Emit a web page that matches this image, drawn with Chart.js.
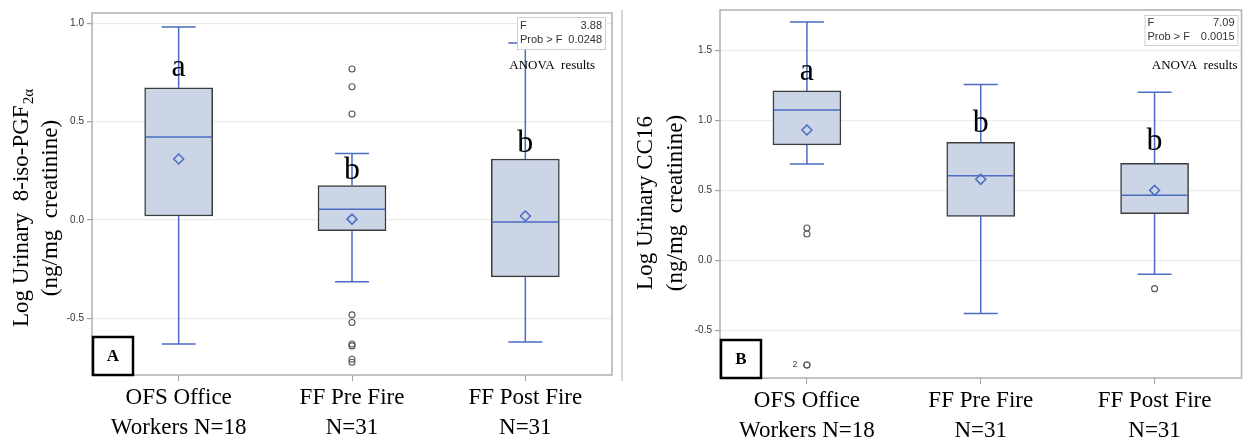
<!DOCTYPE html>
<html>
<head>
<meta charset="utf-8">
<script src="https://cdn.jsdelivr.net/npm/chart.js@4.4.1/dist/chart.umd.min.js"></script>
<style>
  body { margin: 0; background: #fff; }
  #wrap { position: relative; width: 1248px; height: 441px; }
  #chartA { position: absolute; left: 0; top: 0; }
  #chartB { position: absolute; left: 620px; top: 0; }
</style>
</head>
<body>
<div id="wrap">
  <canvas id="chartA" width="620" height="441"></canvas>
  <canvas id="chartB" width="628" height="441"></canvas>
</div>
<script>
const categories = [['OFS Office', 'Workers N=18'], ['FF Pre Fire', 'N=31'], ['FF Post Fire', 'N=31']];

// Panel A - log urinary 8-iso-PGF2a
const minA = [-0.631, -0.314, -0.621];
const q1A = [0.02, -0.055, -0.29];
const medianA = [0.422, 0.055, -0.01];
const q3A = [0.672, 0.175, 0.31];
const maxA = [0.982, 0.338, 0.9];
const meanA = [0.31, 0.004, 0.02];
const outliersA = [[], [0.768, 0.678, 0.539, -0.483, -0.522, -0.631, -0.641, -0.709, -0.724], []];
const lettersA = ['a', 'b', 'b'];
const letterYA = [0.733, 0.209, 0.346];
const yTicksA = [-0.5, 0.0, 0.5, 1.0];
const yRangeA = [-0.789, 1.053];
const anovaA = ['3.88', '0.0248'];

// Panel B - log urinary CC16
const minB = [0.689, -0.381, -0.1];
const q1B = [0.825, 0.314, 0.333];
const medianB = [1.075, 0.605, 0.465];
const q3B = [1.211, 0.843, 0.694];
const maxB = [1.705, 1.257, 1.202];
const meanB = [0.932, 0.579, 0.5];
const outliersB = [[0.231, 0.188, -0.749, -0.749], [], [-0.203]];
const lettersB = ['a', 'b', 'b'];
const letterYB = [1.289, 0.92, 0.789];
const yTicksB = [-0.5, 0.0, 0.5, 1.0, 1.5];
const yRangeB = [-0.842, 1.79];
const anovaB = ['7.09', '0.0015'];
// count shown next to overlapping outliers
const dupTextB = ['2', '', ''];
const dupYB = [-0.749, null, null];

const blue = '#4a6cc4';
const serif = "'Liberation Serif', 'Times New Roman', serif";
const sans = "'Liberation Sans', Arial, sans-serif";

function makePanel(canvasId, p) {
  const extras = {
    id: 'boxExtras',
    afterDatasetDraw(chart, args) {
      if (args.index !== 0) return;
      const ctx = chart.ctx, y = chart.scales.y;
      ctx.save();
      ctx.strokeStyle = blue;
      ctx.lineWidth = 1.5;
      args.meta.data.forEach((bar, i) => {
        const half = bar.width / 2, cap = bar.width / 4;
        const yMin = y.getPixelForValue(p.min[i]);
        const yMax = y.getPixelForValue(p.max[i]);
        const yQ1 = y.getPixelForValue(p.q1[i]);
        const yQ3 = y.getPixelForValue(p.q3[i]);
        const yMed = y.getPixelForValue(p.median[i]);
        ctx.beginPath();
        ctx.moveTo(bar.x, yQ3); ctx.lineTo(bar.x, yMax);
        ctx.moveTo(bar.x - cap, yMax); ctx.lineTo(bar.x + cap, yMax);
        ctx.moveTo(bar.x, yQ1); ctx.lineTo(bar.x, yMin);
        ctx.moveTo(bar.x - cap, yMin); ctx.lineTo(bar.x + cap, yMin);
        ctx.moveTo(bar.x - half + 1, yMed); ctx.lineTo(bar.x + half - 1, yMed);
        ctx.stroke();
      });
      ctx.restore();
    },
    afterDraw(chart) {
      const ctx = chart.ctx, a = chart.chartArea;
      const xs = chart.scales.x, ys = chart.scales.y;
      ctx.save();

      // plot frame
      ctx.strokeStyle = '#b0b0b0';
      ctx.lineWidth = 1.5;
      ctx.strokeRect(a.left, a.top, a.right - a.left, a.bottom - a.top);

      // group letters
      ctx.fillStyle = '#000';
      ctx.font = '32px ' + serif;
      ctx.textAlign = 'center';
      ctx.textBaseline = 'alphabetic';
      p.letters.forEach((t, i) => {
        ctx.fillText(t, xs.getPixelForValue(i), ys.getPixelForValue(p.letterY[i]));
      });

      // overlapping outlier counts
      if (p.dupText) {
        ctx.font = '9px ' + sans;
        ctx.fillStyle = '#444';
        ctx.textBaseline = 'middle';
        p.dupText.forEach((t, i) => {
          if (t) ctx.fillText(t, xs.getPixelForValue(i) - 12, ys.getPixelForValue(p.dupY[i]));
        });
      }

      // ANOVA inset
      const ins = p.inset;
      const bx = a.right - ins.right - ins.w, by = a.top + ins.top;
      ctx.fillStyle = '#fff';
      ctx.fillRect(bx, by, ins.w, ins.h);
      ctx.strokeStyle = '#cfcfcf';
      ctx.lineWidth = 1;
      ctx.strokeRect(bx + 0.5, by + 0.5, ins.w, ins.h);
      ctx.fillStyle = '#333';
      ctx.font = '11px ' + sans;
      ctx.textBaseline = 'middle';
      ctx.textAlign = 'left';
      ctx.fillText('F', bx + 3, by + ins.h * 0.27);
      ctx.fillText('Prob > F', bx + 3, by + ins.h * 0.73);
      ctx.textAlign = 'right';
      ctx.fillText(p.anova[0], bx + ins.w - 3, by + ins.h * 0.27);
      ctx.fillText(p.anova[1], bx + ins.w - 3, by + ins.h * 0.73);
      ctx.fillStyle = '#000';
      ctx.font = '13px ' + serif;
      ctx.fillText('ANOVA  results', a.right - p.anovaRight, a.top + p.anovaTop);

      // panel label box
      ctx.fillStyle = '#fff';
      ctx.fillRect(a.left, a.bottom - 39, 41, 39);
      ctx.strokeStyle = '#000';
      ctx.lineWidth = 2.5;
      ctx.strokeRect(a.left + 1, a.bottom - 38, 40, 38);
      ctx.fillStyle = '#000';
      ctx.font = 'bold 17px ' + serif;
      ctx.textAlign = 'center';
      ctx.fillText(p.panel, a.left + 21, a.bottom - 18);

      // y-axis title (two lines, rotated)
      p.titles.forEach(t => {
        ctx.save();
        ctx.translate(t.x, p.titleY);
        ctx.rotate(-Math.PI / 2);
        ctx.font = '23px ' + serif;
        const w1 = ctx.measureText(t.text).width;
        let w2 = 0;
        if (t.sub) {
          ctx.font = '15px ' + serif;
          w2 = ctx.measureText(t.sub).width + 1;
        }
        ctx.textAlign = 'left';
        ctx.textBaseline = 'middle';
        ctx.fillStyle = '#000';
        ctx.font = '23px ' + serif;
        ctx.fillText(t.text, -(w1 + w2) / 2, 0);
        if (t.sub) {
          ctx.font = '15px ' + serif;
          ctx.fillText(t.sub, -(w1 + w2) / 2 + w1 + 1, 7);
        }
        ctx.restore();
      });

      // separator between the panels
      if (p.separator) {
        ctx.strokeStyle = '#d4d4d4';
        ctx.lineWidth = 2;
        ctx.beginPath();
        ctx.moveTo(2, a.top);
        ctx.lineTo(2, a.bottom + 3);
        ctx.stroke();
      }
      ctx.restore();
    }
  };

  const outlierPts = [];
  p.outliers.forEach((list, i) => list.forEach(v => outlierPts.push({ x: i, y: v })));

  return new Chart(document.getElementById(canvasId), {
    type: 'bar',
    data: {
      datasets: [{
        order: 3,
        data: p.q1.map((v, i) => ({ x: i, y: [v, p.q3[i]] })),
        backgroundColor: '#cbd5e6',
        borderColor: '#3c3c3c',
        borderWidth: 1.5,
        borderSkipped: false,
        barThickness: 68
      }, {
        order: 1,
        type: 'line',
        showLine: false,
        data: p.mean.map((v, i) => ({ x: i, y: v })),
        pointStyle: 'rectRot',
        pointRadius: 5,
        pointBorderWidth: 1.5,
        pointBorderColor: blue,
        pointBackgroundColor: 'rgba(0,0,0,0)'
      }, {
        order: 2,
        type: 'line',
        showLine: false,
        data: outlierPts,
        pointStyle: 'circle',
        pointRadius: 3,
        pointBorderWidth: 1.1,
        pointBorderColor: '#555',
        pointBackgroundColor: 'rgba(0,0,0,0)'
      }]
    },
    options: {
      responsive: false,
      animation: false,
      layout: { padding: p.padding },
      plugins: { legend: { display: false }, tooltip: { enabled: false } },
      scales: {
        x: {
          type: 'linear',
          min: -0.5,
          max: 2.5,
          offset: false,
          afterBuildTicks: s => { s.ticks = categories.map((c, i) => ({ value: i })); },
          afterFit: s => { s.height = p.xHeight; },
          grid: { drawOnChartArea: false, offset: false, tickLength: 6, color: '#a0a0a0' },
          border: { display: false },
          ticks: {
            callback: v => categories[v],
            font: { family: serif, size: 23, lineHeight: 1.3 },
            color: '#000',
            padding: 2,
            maxRotation: 0,
            autoSkip: false
          }
        },
        y: {
          min: p.range[0],
          max: p.range[1],
          afterBuildTicks: s => { s.ticks = p.yTicks.map(v => ({ value: v })); },
          afterFit: s => { s.width = p.yWidth; },
          grid: { color: '#ebebeb', lineWidth: 1.2, tickLength: 5, tickColor: '#a0a0a0' },
          border: { display: false },
          ticks: {
            callback: v => v.toFixed(1),
            font: { family: sans, size: 10 },
            color: '#333',
            padding: 3
          }
        }
      }
    },
    plugins: [extras]
  });
}

makePanel('chartA', {
  min: minA, q1: q1A, median: medianA, q3: q3A, max: maxA, mean: meanA,
  outliers: outliersA, letters: lettersA, letterY: letterYA,
  yTicks: yTicksA, range: yRangeA, anova: anovaA, panel: 'A',
  padding: { left: 0, top: 13, right: 8, bottom: 0 },
  yWidth: 92, xHeight: 66,
  inset: { right: 7, top: 4, w: 88, h: 32 },
  anovaRight: 17, anovaTop: 53,
  titles: [{ text: 'Log Urinary  8-iso-PGF', sub: '2α', x: 22 }, { text: '(ng/mg  creatinine)', x: 51 }],
  titleY: 208
});

makePanel('chartB', {
  min: minB, q1: q1B, median: medianB, q3: q3B, max: maxB, mean: meanB,
  outliers: outliersB, letters: lettersB, letterY: letterYB,
  yTicks: yTicksB, range: yRangeB, anova: anovaB, panel: 'B',
  dupText: dupTextB, dupY: dupYB,
  padding: { left: 0, top: 10, right: 2, bottom: 0 },
  yWidth: 100, xHeight: 63,
  inset: { right: 4, top: 5, w: 93, h: 30 },
  anovaRight: 4, anovaTop: 56,
  titles: [{ text: 'Log Urinary CC16', x: 26 }, { text: '(ng/mg  creatinine)', x: 56 }],
  titleY: 203,
  separator: true
});
</script>
</body>
</html>
